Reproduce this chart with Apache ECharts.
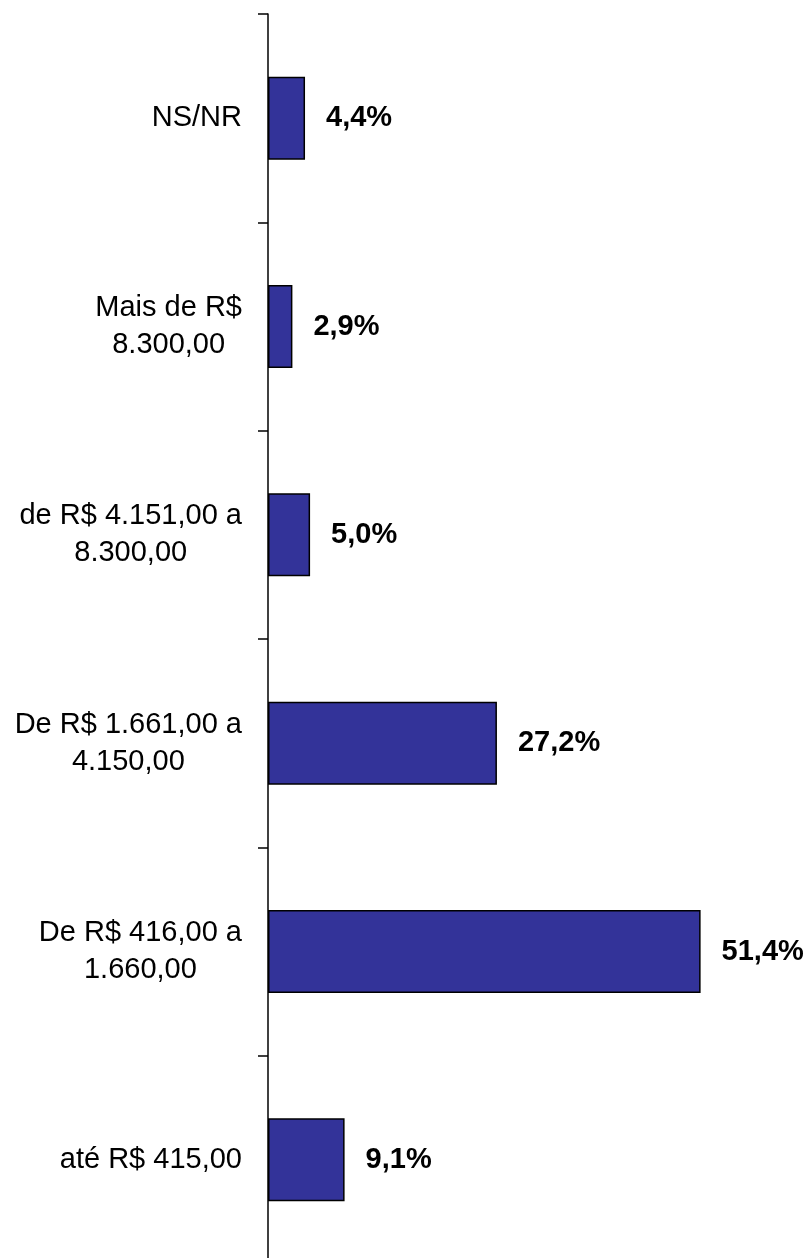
<!DOCTYPE html>
<html>
<head>
<meta charset="utf-8">
<script src="https://cdn.jsdelivr.net/npm/echarts@6/dist/echarts.min.js"></script>
<style>
  html, body { margin: 0; padding: 0; background: #fff; }
  #main { width: 809px; height: 1258px; }
</style>
</head>
<body>
<div id="main"></div>
<script>
// faixas de renda, de baixo para cima
var faixas = [
    'até R$ 415,00',
    'De R$ 416,00 a\n1.660,00',
    'De R$ 1.661,00 a\n4.150,00',
    'de R$ 4.151,00 a\n8.300,00',
    'Mais de R$\n8.300,00',
    'NS/NR'
];
var percentuais = [9.1, 51.4, 27.2, 5.0, 2.9, 4.4];

var chart = echarts.init(document.getElementById('main'));

var option = {
    backgroundColor: '#fff',
    animation: false,
    grid: {
        left: 268,
        top: 14,
        width: 505,
        height: 1250,
        containLabel: false,
        outerBoundsMode: 'none'
    },
    xAxis: {
        type: 'value',
        min: 0,
        max: 60,
        show: false
    },
    yAxis: {
        type: 'category',
        data: faixas,
        axisLine: { lineStyle: { color: '#000', width: 1.5 } },
        axisTick: { show: true, length: 10, lineStyle: { color: '#000', width: 1.5 } },
        axisLabel: {
            margin: 26,
            color: '#000',
            fontFamily: 'Liberation Sans, Arial',
            fontSize: 29,
            lineHeight: 37,
            formatter: function (v) {
                // cada linha centralizada dentro do bloco
                return v.split('\n').map(function (l) { return '{c|' + l + '}'; }).join('\n');
            },
            rich: {
                c: {
                    align: 'center',
                    color: '#000',
                    fontFamily: 'Liberation Sans, Arial',
                    fontSize: 29,
                    lineHeight: 37
                }
            }
        }
    },
    series: [{
        type: 'bar',
        data: percentuais,
        barWidth: 83,
        itemStyle: {
            color: '#333399',
            borderColor: '#000',
            borderWidth: 1.5
        },
        label: {
            show: true,
            position: 'right',
            distance: 21,
            color: '#000',
            fontFamily: 'Liberation Sans, Arial',
            fontWeight: 'bold',
            fontSize: 29,
            formatter: function (p) {
                return p.value.toFixed(1).replace('.', ',') + '%';
            }
        }
    }]
};

chart.setOption(option);
</script>
</body>
</html>
